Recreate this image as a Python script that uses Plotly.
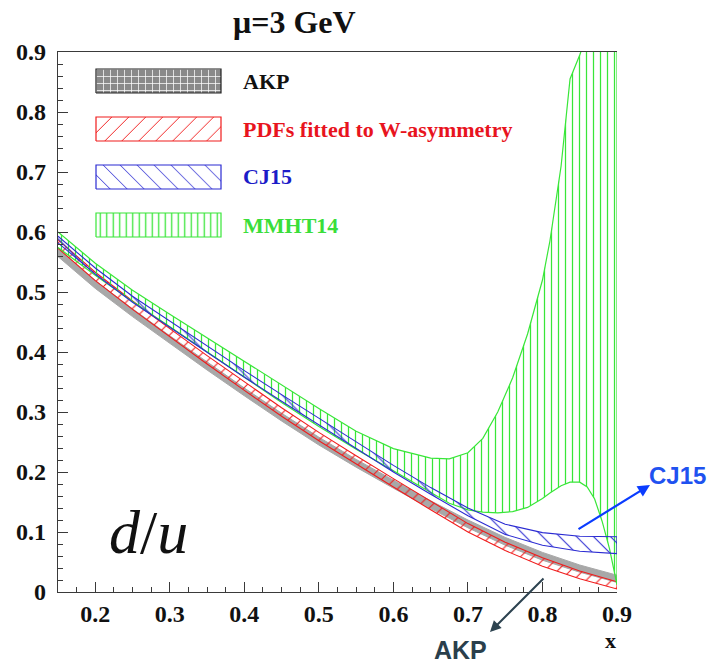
import plotly.graph_objects as go

# ---------------- data ----------------
x_grid = [0.15, 0.20, 0.25, 0.30, 0.35, 0.40, 0.45, 0.50, 0.55, 0.60,
          0.65, 0.70, 0.75, 0.80, 0.85, 0.90]

akp_hi = [0.572, 0.519, 0.472, 0.427, 0.383, 0.340, 0.298, 0.258, 0.221, 0.186,
          0.152, 0.120, 0.091, 0.066, 0.045, 0.028]
akp_lo = [0.559, 0.506, 0.459, 0.414, 0.370, 0.327, 0.285, 0.245, 0.208, 0.173,
          0.139, 0.107, 0.078, 0.053, 0.033, 0.016]

pdf_hi = [0.587, 0.533, 0.485, 0.439, 0.394, 0.350, 0.307, 0.266, 0.227, 0.189,
          0.151, 0.114, 0.083, 0.057, 0.035, 0.017]
pdf_lo = [0.573, 0.519, 0.471, 0.425, 0.380, 0.336, 0.293, 0.252, 0.213, 0.175,
          0.137, 0.100, 0.069, 0.043, 0.022, 0.005]

cj15_hi = [0.593, 0.540, 0.493, 0.451, 0.410, 0.369, 0.329, 0.290, 0.250, 0.211,
           0.174, 0.140, 0.113, 0.099, 0.093, 0.092]
cj15_lo = [0.582, 0.530, 0.483, 0.441, 0.399, 0.358, 0.318, 0.279, 0.239, 0.200,
           0.163, 0.127, 0.096, 0.078, 0.068, 0.064]

x_mmht = [0.15, 0.20, 0.25, 0.30, 0.35, 0.40, 0.45, 0.50, 0.55, 0.60, 0.65,
          0.675, 0.70, 0.72, 0.74, 0.76, 0.78, 0.80, 0.81, 0.825, 0.837,
          0.85, 0.86, 0.87, 0.88, 0.89, 0.90]
mmht_hi = [0.600, 0.548, 0.503, 0.463, 0.423, 0.384, 0.345, 0.306, 0.268, 0.239, 0.223,
           0.222, 0.232, 0.256, 0.300, 0.357, 0.430, 0.520, 0.585, 0.710, 0.855,
           0.895, 0.93, 0.96, 0.98, 0.99, 1.00]
mmht_lo = [0.574, 0.528, 0.484, 0.442, 0.399, 0.357, 0.316, 0.276, 0.238, 0.202, 0.166,
           0.148, 0.137, 0.133, 0.132, 0.134, 0.141, 0.156, 0.165, 0.177, 0.183,
           0.183, 0.175, 0.155, 0.118, 0.072, 0.012]

y_tick_vals = [0, 0.1, 0.2, 0.3, 0.4, 0.5, 0.6, 0.7, 0.8, 0.9]
y_tick_text = ["0", "0.1", "0.2", "0.3", "0.4", "0.5", "0.6", "0.7", "0.8", "0.9"]
x_tick_vals = [0.2, 0.3, 0.4, 0.5, 0.6, 0.7, 0.8, 0.9]
x_tick_text = ["0.2", "0.3", "0.4", "0.5", "0.6", "0.7", "0.8", "0.9"]

legend_labels = ["AKP", "PDFs fitted to W-asymmetry", "CJ15", "MMHT14"]

# ---------------- style ----------------
W, H = 710, 664
PL, PR, PT, PB = 58, 617, 52, 592  # plot area in pixels
SERIF = "Liberation Serif, Times New Roman, serif"
SANS = "Liberation Sans, Arial, sans-serif"
GRAY_BAND = "#a8a8a8"
RED = "#f01c1c"
BLUE = "#2b2bd2"
GREEN = "#38e638"
AXIS = "#3a3a3a"


def px_x(p):
    return (p - PL) / (PR - PL)


def px_y(p):
    return (PB - p) / (PB - PT)


def band(x, lo, hi):
    return list(x) + list(x)[::-1], list(lo) + list(hi)[::-1]


fig = go.Figure()

# AKP (solid gray band)
bx, by = band(x_grid, akp_lo, akp_hi)
fig.add_trace(go.Scatter(x=bx, y=by, mode="lines", fill="toself",
                         fillcolor=GRAY_BAND, line=dict(color=GRAY_BAND, width=1),
                         hoverinfo="skip", showlegend=False))
# PDFs fitted to W-asymmetry (red / hatch)
bx, by = band(x_grid, pdf_lo, pdf_hi)
fig.add_trace(go.Scatter(x=bx, y=by, mode="lines", fill="toself",
                         fillcolor="rgba(0,0,0,0)",
                         fillpattern=dict(shape="/", fgcolor=RED, bgcolor="rgba(0,0,0,0)",
                                          size=9, solidity=0.12, fillmode="replace"),
                         line=dict(color=RED, width=1.1),
                         hoverinfo="skip", showlegend=False))
# MMHT14 (green | hatch)
bx, by = band(x_mmht, mmht_lo, mmht_hi)
fig.add_trace(go.Scatter(x=bx, y=by, mode="lines", fill="toself",
                         fillcolor="rgba(0,0,0,0)",
                         fillpattern=dict(shape="|", fgcolor=GREEN, bgcolor="rgba(0,0,0,0)",
                                          size=7, solidity=0.18, fillmode="replace"),
                         line=dict(color=GREEN, width=1.2),
                         hoverinfo="skip", showlegend=False))
# CJ15 (blue \ hatch)
bx, by = band(x_grid, cj15_lo, cj15_hi)
fig.add_trace(go.Scatter(x=bx, y=by, mode="lines", fill="toself",
                         fillcolor="rgba(0,0,0,0)",
                         fillpattern=dict(shape="\\", fgcolor=BLUE, bgcolor="rgba(0,0,0,0)",
                                          size=12, solidity=0.09, fillmode="replace"),
                         line=dict(color=BLUE, width=1.1),
                         hoverinfo="skip", showlegend=False))

# ---------------- hand-drawn legend (overlay axes in [0,1]) ----------------
LEG_X0, LEG_X1 = px_x(96), px_x(221)
LEG_ROWS_PX = [(69, 93), (117, 141), (165, 189), (213, 237)]
leg_styles = [
    dict(fillcolor="#8a8a8a", line="#222222",
         pattern=dict(shape="+", fgcolor="white", bgcolor="#8a8a8a", size=7,
                      solidity=0.2, fillmode="replace")),
    dict(fillcolor="rgba(0,0,0,0)", line=RED,
         pattern=dict(shape="/", fgcolor=RED, bgcolor="rgba(0,0,0,0)", size=12,
                      solidity=0.08, fillmode="replace")),
    dict(fillcolor="rgba(0,0,0,0)", line=BLUE,
         pattern=dict(shape="\\", fgcolor=BLUE, bgcolor="rgba(0,0,0,0)", size=12,
                      solidity=0.08, fillmode="replace")),
    dict(fillcolor="rgba(0,0,0,0)", line=GREEN,
         pattern=dict(shape="|", fgcolor=GREEN, bgcolor="rgba(0,0,0,0)", size=6.5,
                      solidity=0.2, fillmode="replace")),
]
leg_text_colors = ["#111111", "#e8141e", "#1c1cc8", "#3ade3a"]
for (t, b), st, lab, tc in zip(LEG_ROWS_PX, leg_styles, legend_labels, leg_text_colors):
    y0, y1 = px_y(b), px_y(t)
    fig.add_trace(go.Scatter(
        x=[LEG_X0, LEG_X1, LEG_X1, LEG_X0, LEG_X0], y=[y0, y0, y1, y1, y0],
        xaxis="x2", yaxis="y2", mode="lines", fill="toself",
        fillcolor=st["fillcolor"], fillpattern=st["pattern"],
        line=dict(color=st["line"], width=1.2), hoverinfo="skip", showlegend=False))
    fig.add_annotation(x=px_x(241), y=(y0 + y1) / 2, xref="paper", yref="paper",
                       text=lab, showarrow=False, xanchor="left", yanchor="middle",
                       font=dict(family=SERIF, size=22, color=tc, weight="bold"))


def label(px, py, text, font, xanchor="center"):
    fig.add_annotation(x=px_x(px), y=px_y(py), xref="paper", yref="paper",
                       text=text, showarrow=False, xanchor=xanchor,
                       yanchor="middle", font=font)


# ---------------- text annotations ----------------
label(294, 22, "\u03bc=3 GeV",
      dict(family=SERIF, size=32, color="#111111", weight="bold"))
label(148, 532, "<i>d</i>/<i>u</i>",
      dict(family=SERIF, size=62, color="#111111"))
label(610, 640, "x", dict(family=SERIF, size=22, color="#111111", weight="bold"))

# CJ15 arrow + label
fig.add_annotation(x=px_x(650), y=px_y(485), xref="paper", yref="paper",
                   text="", showarrow=True, ax=-73, ay=45,
                   arrowhead=2, arrowsize=1.1, arrowwidth=2.2, arrowcolor="#0a3cff")
label(708, 475, "CJ15", dict(family=SANS, size=24, color="#1f52f0", weight="bold"),
      xanchor="right")
# AKP arrow + label
fig.add_annotation(x=px_x(490), y=px_y(632), xref="paper", yref="paper",
                   text="", showarrow=True, ax=55, ay=-55,
                   arrowhead=2, arrowsize=1.1, arrowwidth=2.0, arrowcolor="#2d4350")
label(461, 650, "AKP", dict(family=SANS, size=25, color="#2a3f4c", weight="bold"))

# ---------------- layout ----------------
fig.update_layout(
    width=W, height=H,
    margin=dict(l=PL, r=W - PR, t=PT, b=H - PB, pad=0),
    paper_bgcolor="white", plot_bgcolor="white",
    showlegend=False,
    xaxis=dict(range=[0.15, 0.9], showgrid=False, zeroline=False,
               showline=True, linecolor=AXIS, linewidth=1.4, mirror=True,
               ticks="inside", ticklen=10, tickwidth=1.2, tickcolor=AXIS,
               tickvals=x_tick_vals, ticktext=x_tick_text,
               minor=dict(ticks="inside", ticklen=5, dtick=0.025, tickcolor=AXIS,
                          tickwidth=1, showgrid=False),
               tickfont=dict(family=SERIF, size=24, color="#111111", weight="bold"),
               ticklabelstandoff=0),
    yaxis=dict(range=[0, 0.9], showgrid=False, zeroline=False,
               showline=True, linecolor=AXIS, linewidth=1.4,
               ticks="inside", ticklen=10, tickwidth=1.2, tickcolor=AXIS,
               tickvals=y_tick_vals, ticktext=y_tick_text,
               minor=dict(ticks="inside", ticklen=5, dtick=0.02, tickcolor=AXIS,
                          tickwidth=1, showgrid=False),
               tickfont=dict(family=SERIF, size=24, color="#111111", weight="bold"),
               ticklabelstandoff=6),
    xaxis2=dict(range=[0, 1], overlaying="x", visible=False, fixedrange=True),
    yaxis2=dict(range=[0, 1], overlaying="y", visible=False, fixedrange=True),
)

fig.write_html("out.html")
